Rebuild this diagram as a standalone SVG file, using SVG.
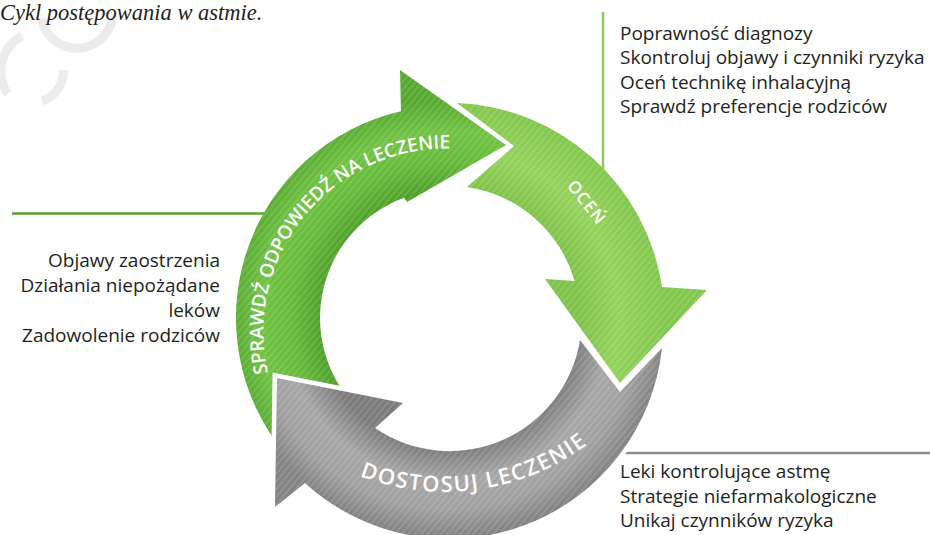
<svg xmlns="http://www.w3.org/2000/svg" xmlns:xlink="http://www.w3.org/1999/xlink" width="930" height="535" viewBox="0 0 930 535">
<style>
.body{font-family:"Open Sans","Noto Sans","Liberation Sans",sans-serif;font-size:19px;fill:#231f20}
.end{text-anchor:end}
.arc{font-family:"Open Sans","Noto Sans","Liberation Sans",sans-serif;font-weight:600;fill:#ffffff}
.wm{fill:none;stroke:#ececec;stroke-width:9}
.lead{fill:none;stroke-width:2.5}
</style>
<defs>
<radialGradient id="gDark" gradientUnits="userSpaceOnUse" cx="448" cy="318" r="218">
<stop offset="0.58" stop-color="#4f9f2a"/><stop offset="0.72" stop-color="#66ba3a"/><stop offset="0.86" stop-color="#6fc242"/><stop offset="1" stop-color="#56a830"/>
</radialGradient>
<radialGradient id="gLight" gradientUnits="userSpaceOnUse" cx="448" cy="318" r="218">
<stop offset="0.6" stop-color="#7fc249"/><stop offset="0.78" stop-color="#94d25b"/><stop offset="1" stop-color="#82c64c"/>
</radialGradient>
<radialGradient id="gGray" gradientUnits="userSpaceOnUse" cx="448" cy="318" r="218">
<stop offset="0.6" stop-color="#7b7b7b"/><stop offset="0.75" stop-color="#a6a6a6"/><stop offset="0.88" stop-color="#a0a0a0"/><stop offset="1" stop-color="#838383"/>
</radialGradient>
<pattern id="stripes" patternUnits="userSpaceOnUse" width="5" height="5" patternTransform="rotate(-50)">
<rect width="5" height="2" fill="#ffffff" fill-opacity="0.12"/>
</pattern>
<path id="p-dark" d="M285.6,454.3 A212,212 0 0 1 401,111.3 L400,70 L506,145 L407,202 L404,197.8 A128,128 0 0 0 350,400.3 Z"/>
<path id="p-light" d="M457,103 L514,146 L467,187 A132,132 0 0 1 574.7,281 L545,279 L620,383 L707,290 L662,287 A216,216 0 0 0 457,103 Z"/>
<path id="p-gray" d="M580,340 L620,392 L662,348 A214,214 0 0 1 305,483 L275,507 L277,378 L403,403 L375,428 A132,132 0 0 0 580,340 Z"/>
<path id="t-sprawdz" d="M268,373 A183.5,183.5 0 0 1 446,148.55"/>
<path id="t-dostosuj" d="M359.7,476.1 A238,238 0 0 0 588.1,443.9"/>
</defs>

<g id="watermark">
<path class="wm" d="M112.5,18.3 A36,36 0 0 1 41.5,18.3"/>
<path class="wm" d="M22,36 A40,40 0 0 0 8,94"/>
<path class="wm" d="M42,101 Q62,94 64,70"/>
</g>

<g id="title">
<text x="0" y="20" font-family="'Liberation Serif','Times New Roman',serif" font-style="italic" font-size="22.5" fill="#231f20">Cykl postępowania w astmie.</text>
</g>

<g id="connectors">
<line class="lead" x1="603" y1="12" x2="603" y2="178" stroke="#8cc85b"/>
<line class="lead" x1="12" y1="213.5" x2="272" y2="213.5" stroke="#57a131"/>
<line class="lead" x1="600" y1="453" x2="930" y2="453" stroke="#8d8d8d"/>
</g>

<g id="arrow-ocen">
<use xlink:href="#p-light" fill="url(#gLight)"/>
<use xlink:href="#p-light" fill="url(#stripes)"/>
<text class="arc" x="582" y="206" font-size="17" letter-spacing="1" text-anchor="middle" transform="rotate(51.6 582 206)">OCEŃ</text>
</g>

<g id="arrow-sprawdz">
<use xlink:href="#p-dark" fill="url(#gDark)"/>
<use xlink:href="#p-dark" fill="url(#stripes)"/>
<text class="arc" font-size="19" letter-spacing="0"><textPath xlink:href="#t-sprawdz">SPRAWDŹ ODPOWIEDŹ NA LECZENIE</textPath></text>
</g>

<g id="arrow-dostosuj">
<use xlink:href="#p-gray" fill="url(#gGray)" stroke="#ffffff" stroke-width="9" stroke-linejoin="miter" paint-order="stroke"/>
<use xlink:href="#p-gray" fill="url(#stripes)"/>
<text class="arc" font-size="22" letter-spacing="1.5"><textPath xlink:href="#t-dostosuj">DOSTOSUJ LECZENIE</textPath></text>
</g>

<g id="note-ocen">
<text class="body" x="620" y="39.5">Poprawność diagnozy</text>
<text class="body" x="620" y="64">Skontroluj objawy i czynniki ryzyka</text>
<text class="body" x="620" y="88.5">Oceń technikę inhalacyjną</text>
<text class="body" x="620" y="113">Sprawdź preferencje rodziców</text>
</g>

<g id="note-sprawdz">
<text class="body end" x="220" y="266.7">Objawy zaostrzenia</text>
<text class="body end" x="220" y="291.7">Działania niepożądane</text>
<text class="body end" x="220" y="316.7">leków</text>
<text class="body end" x="220" y="341.7">Zadowolenie rodziców</text>
</g>

<g id="note-dostosuj">
<text class="body" x="620" y="478">Leki kontrolujące astmę</text>
<text class="body" x="620" y="502.5">Strategie niefarmakologiczne</text>
<text class="body" x="620" y="527">Unikaj czynników ryzyka</text>
</g>
</svg>
